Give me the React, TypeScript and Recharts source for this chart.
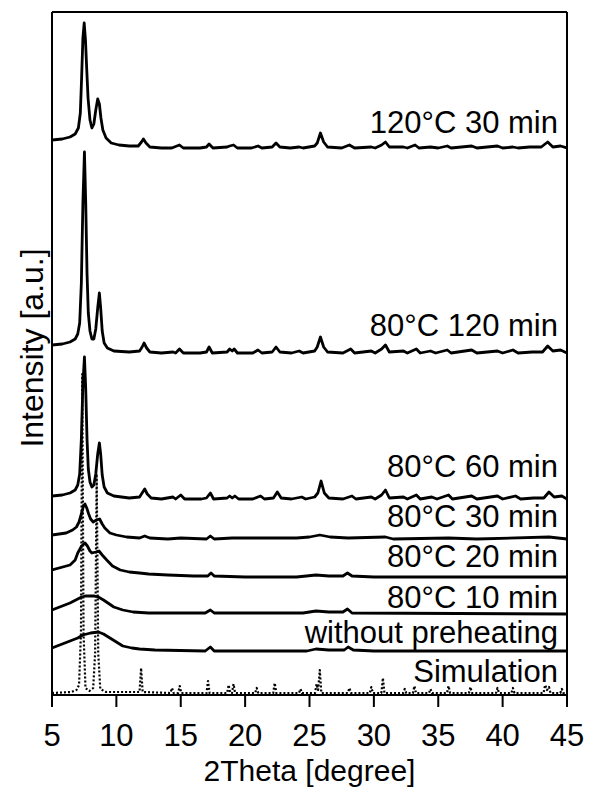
import React from 'react';
import { LineChart, Line, XAxis, YAxis, ReferenceLine, ReferenceDot } from 'recharts';

// ---- data (2Theta in degree, relative intensity above each trace's own baseline) ----
const xTicks = [5, 10, 15, 20, 25, 30, 35, 40, 45];

const seriesNames = [
  '120°C 30 min',
  '80°C 120 min',
  '80°C 60 min',
  '80°C 30 min',
  '80°C 20 min',
  '80°C 10 min',
  'without preheating',
  'Simulation',
];

// vertical stacking offsets of the traces (a.u.)
const offsets = [547, 342, 196, 156, 118, 82, 44, 2];
// label heights (a.u.) and label x (degree)
const labelHeights = [562, 359, 218, 168, 128, 87, 52, 13];
const labelX = 44.3;

const t120_30: [number, number][] = [
  [5.0, 8], [5.8, 9], [6.4, 11], [6.8, 14], [7.05, 20], [7.2, 35], [7.3, 70], [7.4, 110], [7.5, 125],
  [7.6, 108], [7.7, 78], [7.8, 50], [7.95, 28], [8.1, 20], [8.25, 24], [8.4, 38], [8.55, 49], [8.68, 44],
  [8.8, 30], [8.95, 18], [9.2, 10], [9.6, 5], [10.2, 3], [11.0, 2], [11.7, 2], [11.95, 6], [12.1, 9],
  [12.3, 5], [12.6, 1], [13.5, 0], [14.3, 0], [14.5, 1], [14.9, 3], [15.2, 0], [16.5, 0], [17.0, 1],
  [17.2, 4], [17.5, 0], [18.6, 1], [18.8, 2], [19.1, 3], [19.4, 0], [20.5, 0], [21.0, 2], [21.3, 0],
  [22.1, 1], [22.4, 5], [22.7, 1], [23.5, 0], [24.2, 1], [24.5, 0], [25.4, 2], [25.6, 5], [25.85, 15],
  [26.1, 6], [26.4, 1], [27.5, 0], [28.1, 3], [28.5, 0], [29.8, 1], [30.1, 0], [30.6, 3], [30.9, 6],
  [31.2, 1], [32.3, 1], [32.6, 0], [33.2, 3], [33.5, 0], [34.4, 1], [35.0, 0], [35.7, 2], [36.0, 0],
  [37.6, 2], [38.0, 0], [39.6, 2], [40.0, 0], [40.8, 1], [41.2, 0], [42.1, 1], [43.0, 1], [43.5, 6],
  [43.9, 1], [44.5, 2], [45.0, 0],
];

const t80_120: [number, number][] = [
  [5.0, 8], [5.8, 9], [6.4, 11], [6.8, 14], [7.0, 19], [7.15, 30], [7.28, 70], [7.4, 150], [7.52, 201],
  [7.62, 150], [7.72, 80], [7.82, 40], [7.95, 22], [8.1, 14], [8.25, 14], [8.4, 24], [8.55, 45],
  [8.68, 60], [8.78, 45], [8.9, 22], [9.05, 10], [9.3, 5], [9.8, 2], [11.0, 1], [11.8, 2], [12.0, 6],
  [12.15, 10], [12.35, 5], [12.6, 1], [13.5, 0], [14.4, 1], [14.6, 0], [14.9, 4], [15.2, 0], [16.5, 0],
  [17.0, 1], [17.2, 6], [17.45, 0], [18.6, 1], [18.8, 4], [19.0, 2], [19.15, 4], [19.4, 0], [20.6, 0],
  [21.0, 3], [21.3, 0], [22.1, 1], [22.4, 6], [22.7, 1], [23.6, 0], [24.2, 2], [24.5, 0], [25.4, 2],
  [25.6, 6], [25.85, 16], [26.1, 6], [26.4, 1], [27.6, 0], [28.2, 4], [28.5, 0], [29.8, 2], [30.1, 0],
  [30.6, 4], [30.9, 8], [31.2, 1], [32.3, 2], [32.6, 0], [33.3, 4], [33.6, 0], [34.4, 2], [34.8, 0],
  [35.7, 3], [36.0, 0], [37.6, 3], [38.0, 0], [39.6, 2], [40.0, 0], [40.8, 3], [41.2, 0], [42.3, 1],
  [43.1, 1], [43.5, 7], [43.9, 2], [44.5, 3], [45.0, 0],
];

const t80_60: [number, number][] = [
  [5.0, 3], [5.8, 4], [6.4, 6], [6.8, 9], [7.0, 14], [7.15, 25], [7.28, 60], [7.4, 115], [7.52, 142],
  [7.62, 110], [7.72, 60], [7.82, 30], [7.95, 17], [8.1, 12], [8.25, 14], [8.4, 25], [8.55, 45],
  [8.68, 56], [8.78, 45], [8.9, 24], [9.05, 12], [9.3, 6], [9.8, 3], [11.0, 1], [11.8, 2], [12.0, 6],
  [12.2, 10], [12.4, 5], [12.7, 1], [13.5, 0], [14.4, 2], [14.6, 0], [15.0, 4], [15.3, 0], [16.6, 0],
  [17.0, 1], [17.3, 6], [17.55, 0], [18.6, 1], [18.8, 3], [19.0, 1], [19.2, 3], [19.5, 0], [20.6, 0],
  [21.2, 3], [21.5, 0], [22.2, 1], [22.5, 7], [22.8, 1], [23.6, 0], [24.4, 2], [24.7, 0], [25.4, 2],
  [25.65, 6], [25.9, 18], [26.15, 6], [26.5, 1], [27.6, 0], [28.3, 3], [28.6, 0], [29.8, 2], [30.1, 0],
  [30.6, 4], [30.9, 9], [31.2, 1], [32.3, 2], [32.6, 0], [33.3, 4], [33.6, 0], [34.5, 2], [34.9, 0],
  [35.8, 4], [36.1, 0], [37.6, 3], [38.0, 0], [39.6, 3], [40.0, 0], [41.0, 3], [41.4, 0], [42.4, 1],
  [43.2, 1], [43.6, 7], [44.0, 2], [44.6, 3], [45.0, 0],
];

const t80_30: [number, number][] = [
  [5.0, 4], [6.1, 6], [6.6, 9], [6.9, 12], [7.1, 17], [7.3, 26], [7.45, 33], [7.56, 35], [7.7, 31],
  [7.85, 25], [8.0, 20], [8.2, 17], [8.45, 19], [8.7, 20], [8.9, 15], [9.1, 11], [9.5, 6], [10.0, 4],
  [10.8, 2], [11.8, 1], [12.2, 3], [12.6, 1], [14.0, 0], [15.0, 1], [17.0, 0], [17.3, 3], [17.6, 0],
  [19.0, 1], [22.4, 1], [24.0, 1], [25.0, 2], [25.8, 4], [26.6, 2], [28.0, 1], [30.9, 2], [31.5, 0],
  [35.8, 1], [38.0, 0], [43.6, 2], [45.0, 0],
];

const t80_20: [number, number][] = [
  [5.0, 7], [6.4, 12], [6.8, 17], [7.0, 24], [7.3, 31], [7.56, 34], [7.75, 31], [7.95, 26], [8.1, 24],
  [8.4, 25], [8.65, 26], [8.9, 22], [9.25, 17], [9.7, 11], [10.3, 7], [11.0, 5], [11.8, 4], [12.5, 3],
  [14.0, 2], [16.0, 1], [17.1, 1], [17.35, 4], [17.6, 1], [20.0, 0], [24.0, 0], [25.5, 2], [26.5, 1],
  [27.6, 1], [27.95, 4], [28.3, 1], [30.0, 0], [45.0, 0],
];

const t80_10: [number, number][] = [
  [5.0, 3], [6.4, 10], [7.0, 14], [7.3, 16], [7.6, 17], [7.95, 17], [8.3, 17], [8.6, 16], [9.0, 13],
  [9.8, 6], [10.5, 3], [11.3, 1], [12.5, 0], [16.9, 0], [17.3, 3], [17.6, 0], [24.5, 0], [25.5, 2],
  [26.5, 1], [27.6, 1], [27.95, 4], [28.3, 0], [45.0, -1],
];

const tRaw: [number, number][] = [
  [5.0, 3], [6.4, 10], [7.0, 13], [7.4, 16], [8.0, 18], [8.6, 19], [9.0, 17], [9.5, 13], [10.0, 9],
  [10.5, 5], [11.2, 3], [11.8, 2], [13.0, 1], [16.9, 0], [17.3, 4], [17.6, 0], [24.8, 0], [25.5, 2],
  [26.5, 1], [27.7, 1], [28.0, 4], [28.4, 1], [30.0, 0], [45.0, 0],
];

const tSim: [number, number][] = [
  [5.0, 0], [6.5, 1], [6.9, 3], [7.1, 8], [7.25, 60], [7.35, 319], [7.45, 60], [7.6, 5], [7.9, 2],
  [8.2, 5], [8.35, 40], [8.47, 219], [8.59, 40], [8.75, 4], [9.2, 1], [11.8, 1], [11.92, 25], [12.04, 1],
  [14.2, 0], [14.32, 5], [14.44, 0], [14.8, 0], [14.92, 7], [15.04, 0], [17.0, 0], [17.12, 12], [17.24, 0],
  [18.6, 0], [18.72, 8], [18.84, 0], [18.98, 0], [19.1, 9], [19.22, 0], [20.78, 0], [20.9, 5], [21.02, 0],
  [22.18, 0], [22.3, 10], [22.42, 0], [24.18, 0], [24.3, 4], [24.42, 0], [25.43, 0], [25.55, 9], [25.67, 3],
  [25.8, 23], [25.92, 0], [27.98, 0], [28.1, 5], [28.22, 0], [29.68, 0], [29.8, 6], [29.92, 0], [30.58, 0],
  [30.7, 15], [30.82, 0], [32.28, 0], [32.4, 4], [32.52, 0], [33.03, 0], [33.15, 7], [33.27, 0], [34.28, 0],
  [34.4, 4], [34.52, 0], [35.68, 0], [35.8, 7], [35.92, 0], [37.38, 0], [37.5, 6], [37.62, 0], [39.48, 0],
  [39.6, 5], [39.72, 0], [40.68, 0], [40.8, 5], [40.92, 0], [43.18, 0], [43.3, 8], [43.45, 3], [43.6, 6],
  [43.72, 0], [44.48, 0], [44.6, 4], [44.72, 0], [45.0, 0],
];

const traces = [t120_30, t80_120, t80_60, t80_30, t80_20, t80_10, tRaw, tSim];

// ---- build tables for the library ----
const seriesData = traces.map((pts, i) => pts.map(([x, v]) => ({ x, y: v + offsets[i] })));

const FONT = "'Liberation Sans', Arial, Helvetica, sans-serif";

const SeriesLabel = (props: any) => {
  const vb = props.viewBox || {};
  const x = (vb.x ?? 0) + (vb.width ?? 0) / 2;
  const y = (vb.y ?? 0) + (vb.height ?? 0) / 2;
  return (
    <text x={x} y={y} textAnchor="end" fontSize={31} fontFamily={FONT} fill="#000">
      {props.text}
    </text>
  );
};

const YLabel = () => (
  <text transform="translate(43,348) rotate(-90)" textAnchor="middle" fontSize={32} fontFamily={FONT} fill="#000">
    Intensity [a.u.]
  </text>
);

const XLabel = () => (
  <text x={309.5} y={781} textAnchor="middle" fontSize={30} fontFamily={FONT} fill="#000">
    2Theta [degree]
  </text>
);

export default function App() {
  const order = [7, 6, 5, 4, 3, 2, 1, 0];
  return (
    <div style={{ position: 'absolute', left: 0, top: 0, width: 589, height: 790, background: '#fff' }}>
      <LineChart width={589} height={790} margin={{ top: 12, right: 22, bottom: 0, left: 0 }}>
        <XAxis
          type="number"
          dataKey="x"
          domain={[5, 45]}
          ticks={xTicks}
          allowDataOverflow
          height={95}
          tickSize={12}
          tickMargin={17}
          axisLine={{ stroke: '#000', strokeWidth: 2 }}
          tickLine={{ stroke: '#000', strokeWidth: 2 }}
          tick={{ fontSize: 31, fontFamily: FONT, fill: '#000' }}
          label={<XLabel />}
        />
        <YAxis
          type="number"
          domain={[0, 683]}
          allowDataOverflow
          width={52}
          tick={false}
          tickLine={false}
          axisLine={{ stroke: '#000', strokeWidth: 2 }}
          label={<YLabel />}
        />
        <ReferenceLine y={683} stroke="#000" strokeWidth={2} ifOverflow="visible" />
        <ReferenceLine x={45} stroke="#000" strokeWidth={2} ifOverflow="visible" />
        {order.map((i) => (
          <Line
            key={seriesNames[i]}
            data={seriesData[i]}
            dataKey="y"
            type="linear"
            stroke="#000"
            strokeWidth={i === 7 ? 2.2 : 2.8}
            strokeDasharray={i === 7 ? '2 2' : undefined}
            strokeLinejoin="round"
            dot={false}
            activeDot={false}
            isAnimationActive={false}
            name={seriesNames[i]}
          />
        ))}
        {seriesNames.map((name, i) => (
          <ReferenceDot
            key={'lbl' + i}
            x={labelX}
            y={labelHeights[i]}
            r={1}
            fill="none"
            stroke="none"
            ifOverflow="visible"
            label={<SeriesLabel text={name} />}
          />
        ))}
      </LineChart>
    </div>
  );
}
